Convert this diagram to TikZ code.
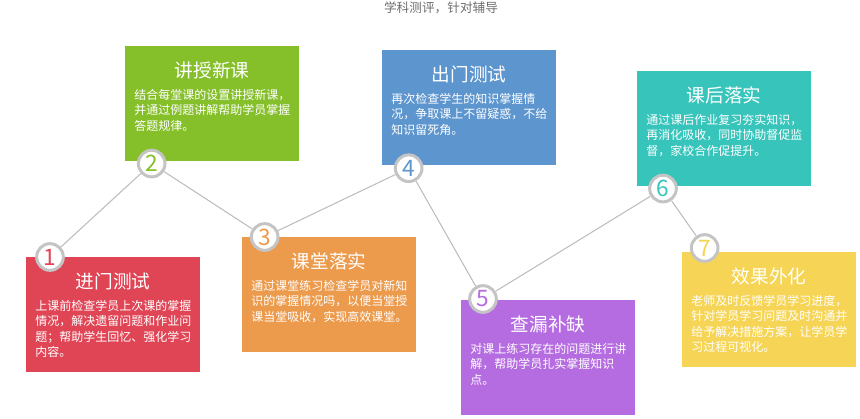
\documentclass[tikz,border=0pt]{standalone}
\usepackage{fontspec}
\setmainfont{Noto Sans CJK SC}
\usetikzlibrary{positioning}
\definecolor{entryred}{HTML}{E04555}
\definecolor{lessongreen}{HTML}{85BF2A}
\definecolor{classorange}{HTML}{EC9A4C}
\definecolor{exitblue}{HTML}{5D95CE}
\definecolor{gappurple}{HTML}{B56CE0}
\definecolor{afterteal}{HTML}{37C4BB}
\definecolor{outcomeyellow}{HTML}{F6D556}
\definecolor{ringgray}{HTML}{C4C4C4}
\definecolor{linegray}{HTML}{BDBDBD}
\definecolor{headgray}{HTML}{6E6E6E}

\begin{document}
\begin{tikzpicture}[x=0.75pt,y=-0.75pt,
  card/.style={minimum width=130.5pt,minimum height=86.25pt,anchor=north west,inner sep=0pt},
  card title/.style={text=white,font=\fontsize{14}{14}\selectfont,anchor=center,yshift=-18pt},
  card text/.style={text=white,font=\fontsize{9}{11.6}\selectfont,align=left,anchor=north west,inner sep=0pt,xshift=6.75pt,yshift=-32pt},
  num/.style={circle,draw=ringgray,line width=2.25pt,fill=white,minimum size=20pt,inner sep=0pt,font=\fontsize{17}{17}\selectfont},
  link/.style={draw=linegray,line width=0.8pt}]
  \useasboundingbox (0,0) rectangle (860,418);
  \node[text=headgray,font=\fontsize{9.5}{9.5}\selectfont] (heading) at (441,8) {学科测评，针对辅导};

  % the seven cards
  \node[card,fill=entryred] (entry test) at (26,257) {};
  \node[card title] (entry test title) at (entry test.north) {进门测试};
  \node[card text] (entry test text) at (entry test.north west) {上课前检查学员上次课的掌握\\情况，解决遗留问题和作业问\\题；帮助学生回忆、强化学习\\内容。};

  \node[card,fill=lessongreen] (new lesson) at (125,46) {};
  \node[card title] (new lesson title) at (new lesson.north) {讲授新课};
  \node[card text] (new lesson text) at (new lesson.north west) {结合每堂课的设置讲授新课，\\并通过例题讲解帮助学员掌握\\答题规律。};

  \node[card,fill=classorange] (class practice) at (242,237) {};
  \node[card title] (class practice title) at (class practice.north) {课堂落实};
  \node[card text] (class practice text) at (class practice.north west) {通过课堂练习检查学员对新知\\识的掌握情况吗，以便当堂授\\课当堂吸收，实现高效课堂。};

  \node[card,fill=exitblue] (exit test) at (382,50) {};
  \node[card title] (exit test title) at (exit test.north) {出门测试};
  \node[card text] (exit test text) at (exit test.north west) {再次检查学生的知识掌握情\\况，争取课上不留疑惑，不给\\知识留死角。};

  \node[card,fill=gappurple] (gap fill) at (461,300) {};
  \node[card title] (gap fill title) at (gap fill.north) {查漏补缺};
  \node[card text] (gap fill text) at (gap fill.north west) {对课上练习存在的问题进行讲\\解，帮助学员扎实掌握知识\\点。};

  \node[card,fill=afterteal] (after class) at (637,71) {};
  \node[card title] (after class title) at (after class.north) {课后落实};
  \node[card text] (after class text) at (after class.north west) {通过课后作业复习夯实知识，\\再消化吸收，同时协助督促监\\督，家校合作促提升。};

  \node[card,fill=outcomeyellow] (outcome) at (682,252) {};
  \node[card title] (outcome title) at (outcome.north) {效果外化};
  \node[card text] (outcome text) at (outcome.north west) {老师及时反馈学员学习进度，\\针对学员学习问题及时沟通并\\给予解决措施方案，让学员学\\习过程可视化。};

  % numbered rings
  \node[num,text=entryred] (num 1) at ([xshift=18pt]entry test.north west) {1};
  \node[num,text=lessongreen] (num 2) at ([xshift=20pt,yshift=-1.5pt]new lesson.south west) {2};
  \node[num,text=classorange] (num 3) at ([xshift=17pt]class practice.north west) {3};
  \node[num,text=exitblue] (num 4) at ([xshift=20pt,yshift=-2pt]exit test.south west) {4};
  \node[num,text=gappurple] (num 5) at ([xshift=16.5pt,yshift=0.75pt]gap fill.north west) {5};
  \node[num,text=afterteal] (num 6) at ([xshift=19.5pt,yshift=-1.5pt]after class.south west) {6};
  \node[num,text=outcomeyellow] (num 7) at ([xshift=17pt,yshift=3pt]outcome.north west) {7};

  \draw[link] (num 1) -- (num 2);
  \draw[link] (num 2) -- (num 3);
  \draw[link] (num 3) -- (num 4);
  \draw[link] (num 4) -- (num 5);
  \draw[link] (num 5) -- (num 6);
  \draw[link] (num 6) -- (num 7);
\end{tikzpicture}
\end{document}
